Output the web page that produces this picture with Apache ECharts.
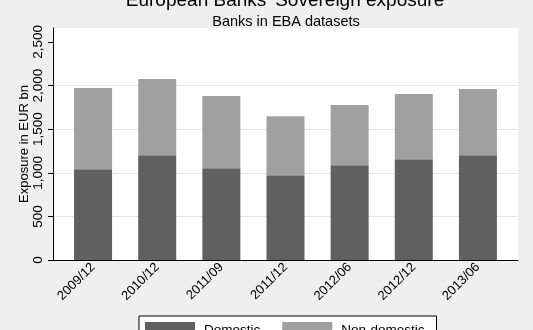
<!DOCTYPE html>
<html>
<head>
<meta charset="utf-8">
<script src="https://cdn.jsdelivr.net/npm/echarts@6/dist/echarts.min.js"></script>
<style>
  html, body { margin: 0; padding: 0; background: #efefef; }
  #chart { width: 533px; height: 330px; }
</style>
</head>
<body>
<div id="chart"></div>
<script>
// Reporting dates of the EBA exercises
const periods = ['2009/12', '2010/12', '2011/09', '2011/12', '2012/06', '2012/12', '2013/06'];
// Sovereign exposure, EUR bn
const domestic = [1040, 1201, 1052, 971, 1086, 1155, 1201];
const nonDomestic = [931, 874, 827, 678, 690, 747, 759];
// Value-axis ticks
const yTicks = [0, 500, 1000, 1500, 2000, 2500];
const yMax = 2660;

const font = '"Liberation Sans", Arial, sans-serif';
const fmt = v => v.toLocaleString('en-US');

const chart = echarts.init(document.getElementById('chart'), null, { renderer: 'canvas' });

chart.setOption({
  backgroundColor: '#efefef',
  animation: false,
  title: [
    {
      text: "European Banks' Sovereign exposure",
      left: 280, top: -14, textAlign: 'center',
      textStyle: { fontFamily: font, fontSize: 19, fontWeight: 'normal', color: '#000' }
    },
    {
      text: 'Banks in EBA datasets',
      left: 281, top: 9, textAlign: 'center',
      textStyle: { fontFamily: font, fontSize: 14.5, fontWeight: 'normal', color: '#000' }
    }
  ],
  legend: {
    left: 139, top: 316,
    orient: 'horizontal',
    icon: 'rect',
    itemWidth: 50, itemHeight: 16, itemGap: 22,
    padding: [6, 12, 6, 6],
    borderColor: '#000', borderWidth: 1,
    backgroundColor: '#fff',
    textStyle: { fontFamily: font, fontSize: 13.5, color: '#000', padding: [0, 0, 0, 4] },
    data: ['Domestic', 'Non-domestic']
  },
  grid: [
    // plot frame: white region, y axis, gridlines
    { left: 53, right: 15, top: 28, bottom: 70, show: true, backgroundColor: '#fff', borderWidth: 0 },
    // bar region, inset so the outer bars sit off the frame edges
    { left: 61, right: 23, top: 28, bottom: 70 }
  ],
  xAxis: [
    {
      gridIndex: 0, type: 'category', data: periods,
      axisLine: { show: true, lineStyle: { color: '#000', width: 1 } },
      axisTick: { show: false }, axisLabel: { show: false }, splitLine: { show: false }
    },
    {
      gridIndex: 1, type: 'category', data: periods,
      axisLine: { show: false }, axisTick: { show: false },
      axisLabel: {
        rotate: 45, margin: 5, interval: 0,
        fontFamily: font, fontSize: 13, color: '#000'
      }
    }
  ],
  yAxis: [
    {
      gridIndex: 0, type: 'value', min: 0, max: yMax, interval: 500,
      name: 'Exposure in EUR bn', nameLocation: 'middle', nameGap: 22, nameRotate: 90,
      nameMoveOverlap: false,
      nameTextStyle: { fontFamily: font, fontSize: 13, color: '#000' },
      axisLine: { show: true, lineStyle: { color: '#000', width: 1 } },
      axisTick: { show: true, length: 5, customValues: yTicks, lineStyle: { color: '#000' } },
      axisLabel: {
        customValues: yTicks, rotate: 90, margin: 8,
        fontFamily: font, fontSize: 13.5, color: '#000',
        formatter: v => fmt(v)
      },
      splitLine: { show: true, showMaxLine: false, lineStyle: { color: '#e6e6e6', width: 1 } }
    },
    {
      gridIndex: 1, type: 'value', min: 0, max: yMax,
      show: false, splitLine: { show: false }
    }
  ],
  series: [
    {
      name: 'Domestic', type: 'bar', stack: 'total',
      xAxisIndex: 1, yAxisIndex: 1, barWidth: 38,
      itemStyle: { color: '#606060' },
      data: domestic
    },
    {
      name: 'Non-domestic', type: 'bar', stack: 'total',
      xAxisIndex: 1, yAxisIndex: 1, barWidth: 38,
      itemStyle: { color: '#a0a0a0' },
      data: nonDomestic
    }
  ]
});
</script>
</body>
</html>
